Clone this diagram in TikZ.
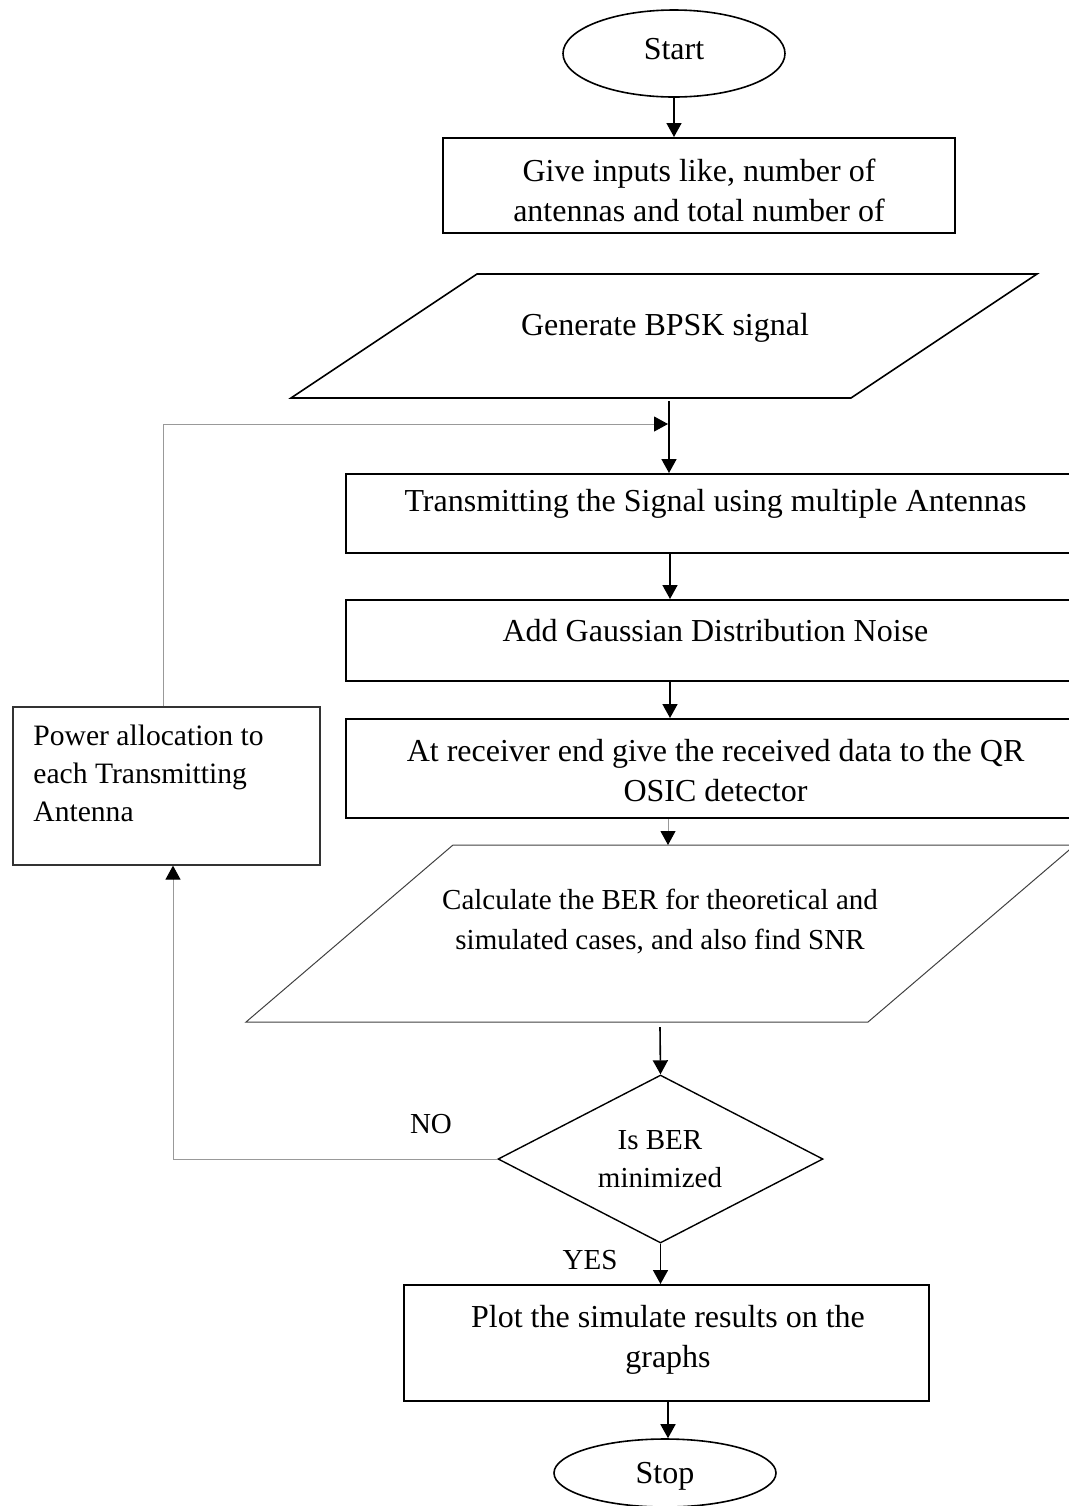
\documentclass[tikz,border=0pt]{standalone}
\usepackage{fontspec}
\setmainfont{Liberation Serif}
\usetikzlibrary{arrows.meta,shapes.geometric,calc}
\begin{document}
\begin{tikzpicture}[x=0.5pt,y=-0.5pt,
  big/.style={font=\fontsize{16}{20}\selectfont},
  small/.style={font=\fontsize{14.5}{19}\selectfont},
  box/.style={draw=black, line width=1pt, inner sep=0pt, big, align=center},
  term/.style={ellipse, draw=black, line width=0.8pt, inner sep=0pt, big},
  txt/.style={inner sep=0pt, align=center},
  arr/.style={-{Triangle[length=7pt,width=7.5pt]}, line width=0.8pt},
  garr/.style={-{Triangle[length=7pt,width=7.5pt,color=black]}, line width=0.5pt, draw=black!40},
  parathick/.style={draw=black, line width=0.8pt},
  parathin/.style={draw=black!75, line width=0.5pt}]
\useasboundingbox (0,0) rectangle (1069,1506);

% terminals
\node[term, minimum width=111pt, minimum height=43.5pt] (start) at (674,53.5) {};
\node[txt, big] (startt) at (674,49) {Start};
\node[term, minimum width=111pt, minimum height=34pt] (stop) at (665,1473) {};
\node[txt, big] (stopt) at (665,1476) {Stop};

% process boxes
\node[box, minimum width=256pt, minimum height=47.5pt] (b1) at (699,185.5) {};
\node[txt, big] (b1t) at (699,190) {Give inputs like, number of\\antennas and total number of};

\node[box, minimum width=369.5pt, minimum height=39.5pt] (b2) at (715.5,513.5) {};
\node[txt, big] (b2t) at (715.5,504) {Transmitting the Signal using multiple Antennas};

\node[box, minimum width=369.5pt, minimum height=40.5pt] (b3) at (715.5,640.5) {};
\node[txt, big] (b3t) at (715.5,631) {Add Gaussian Distribution Noise};

\node[box, minimum width=369.5pt, minimum height=49.5pt] (b4) at (715.5,768.5) {};
\node[txt, big] (b4t) at (715.5,771) {At receiver end give the received data to the QR\\OSIC detector};

\node[box, minimum width=262.5pt, minimum height=58pt] (b5) at (666.5,1343) {};
\node[txt, big] (b5t) at (668,1339.5) {Plot the simulate results on the\\graphs};

\node[draw=black!80, line width=0.6pt, inner sep=0pt, minimum width=153.5pt, minimum height=79pt] (pw) at (166.5,786) {};
\node[inner sep=0pt, align=left, anchor=west, font=\fontsize{14.8}{19}\selectfont] (pwt) at (33,773) {Power allocation to\\each Transmitting\\Antenna};

% parallelograms
\coordinate (p1a) at (477,274);
\coordinate (p1b) at (1037,274);
\coordinate (p1c) at (851,398);
\coordinate (p1d) at (291,398);
\draw[parathick] (p1a) -- (p1b) -- (p1c) -- (p1d) -- cycle;
\node[txt, big] (p1) at (665,328) {Generate BPSK signal};
\coordinate (p1out) at (669,401);

\coordinate (p2a) at (453,845);
\coordinate (p2b) at (1075,845);
\coordinate (p2c) at (868,1022);
\coordinate (p2d) at (246,1022);
\draw[parathin] (p2a) -- (p2b) -- (p2c) -- (p2d) -- cycle;
\node[txt, font=\fontsize{14.5}{20}\selectfont] (p2) at (660,922) {Calculate the BER for theoretical and\\simulated cases, and also find SNR};
\coordinate (p2out) at (660,1027);

% decision
\node[diamond, draw=black, line width=0.7pt, inner sep=0pt, minimum width=162.5pt, minimum height=84pt] (dec) at (660.5,1159) {};
\node[txt, small] (dect) at (660,1159) {Is BER\\minimized};
\node[txt, small] (no) at (431,1124) {NO};
\node[txt, small] (yes) at (590,1260) {YES};

% connectors
\coordinate (sp) at (670,0);
\coordinate (join) at (668,424);
\coordinate (sp2) at (668,0);
\draw[arr] (start.south) -- (start.south |- b1.north);
\draw[arr] (p1out) -- (p1out |- b2.north);
\draw[arr] (sp |- b2.south) -- (sp |- b3.north);
\draw[arr] (sp |- b3.south) -- (sp |- b4.north);
\draw[garr] (sp2 |- b4.south) -- (sp2 |- p2a);
\draw[arr] (p2out) -- (dec.north);
\draw[arr] (dec.south) -- (dec.south |- b5.north);
\draw[arr] (sp2 |- b5.south) -- (sp2 |- stop.north);
\draw[garr] ($(pw.north)+(-3.5,0)$) |- (join);
\draw[garr] (dec.west) -| ($(pw.south)+(6.5,0)$);
\end{tikzpicture}
\end{document}
